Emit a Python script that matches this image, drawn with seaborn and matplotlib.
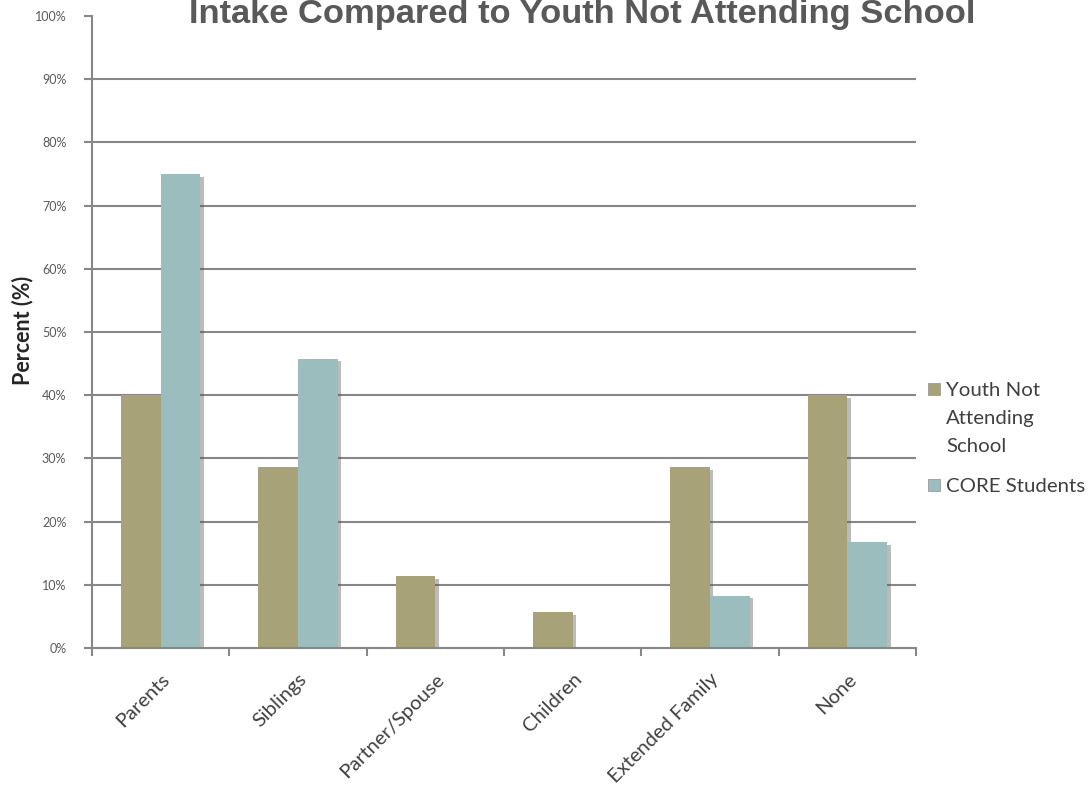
import matplotlib
matplotlib.use("Agg")
import matplotlib.pyplot as plt
import matplotlib.patheffects as pe
from matplotlib.patches import Rectangle
import seaborn as sns
import pandas as pd

categories = ["Parents", "Siblings", "Partner/Spouse", "Children", "Extended Family", "None"]
youth_not_attending = [40.0, 28.6, 11.4, 5.7, 28.6, 40.0]
core_students = [75.0, 45.8, 0.0, 0.0, 8.3, 16.7]
series_names = ["Youth Not\nAttending\nSchool", "CORE Students"]
series_colors = ["#A7A277", "#9BBDBD"]
y_ticks = [0, 10, 20, 30, 40, 50, 60, 70, 80, 90, 100]
y_tick_labels = [f"{v}%" for v in y_ticks]
title = "Intake Compared to Youth Not Attending School"
y_label = "Percent (%)"

df = pd.DataFrame({
    "Category": categories * 2,
    "Series": [series_names[0]] * len(categories) + [series_names[1]] * len(categories),
    "Percent": youth_not_attending + core_students,
})

sns.set_theme(style="white")
plt.rcParams["font.family"] = ["Lato", "DejaVu Sans"]

grey = "#878787"
text_grey = "#595959"

fig = plt.figure(figsize=(10.91, 7.90), dpi=100)
ax = fig.add_axes([92 / 1091, 1 - 648 / 790, 824 / 1091, 632 / 790])

sns.barplot(data=df, x="Category", y="Percent", hue="Series", order=categories,
            hue_order=series_names, palette=series_colors, width=0.58, ax=ax,
            legend=False, saturation=1)

for p in ax.patches:
    p.set_edgecolor("none")
    p.set_path_effects([pe.SimplePatchShadow(offset=(2.5, -2), alpha=0.4, shadow_rgbFace="#555555"),
                        pe.Normal()])

ax.set_ylim(0, 100)
ax.set_xlim(-0.5, len(categories) - 0.5)
ax.set_yticks(y_ticks)
ax.set_yticklabels(y_tick_labels, fontsize=9, color=text_grey)
ax.set_xticks(range(len(categories)))
ax.set_xticklabels(categories, rotation=45, ha="right", rotation_mode="anchor",
                   fontsize=14.5, color="#404040")
ax.tick_params(axis="x", length=0, pad=16)
ax.set_xticks([i - 0.5 for i in range(len(categories) + 1)], minor=True)
ax.tick_params(axis="x", which="minor", length=6, width=1.5, color=grey, direction="out", bottom=True)
ax.tick_params(axis="y", length=6, width=1.5, color=grey, direction="out", left=True, pad=12.5)

ax.yaxis.grid(True, color=grey, linewidth=1.5)
ax.set_axisbelow(True)
ax.get_ygridlines()[-1].set_visible(False)
ax.get_ygridlines()[0].set_visible(False)

for s in ["top", "right"]:
    ax.spines[s].set_visible(False)
for s in ["left", "bottom"]:
    ax.spines[s].set_color(grey)
    ax.spines[s].set_linewidth(1.5)

ax.set_xlabel("")
ax.set_ylabel(y_label, fontsize=15.5, fontweight="bold", color="#262626")
ax.yaxis.set_label_coords((33 - 92) / 824, (648 - 330) / 632)

fig.text(582 / 1091, 1 - 23 / 790, title, ha="center", va="baseline",
         fontsize=24.8, fontweight="bold", color=text_grey, family=["Liberation Sans", "DejaVu Sans"])

# manual legend
legend_y = [389, 485]
for name, color, yc in zip(series_names, series_colors, legend_y):
    fig.patches.append(Rectangle((928 / 1091, 1 - (yc + 6) / 790), 12 / 1091, 12 / 790,
                                 transform=fig.transFigure, facecolor=color,
                                 edgecolor="#9a9a9a", linewidth=0.6))
    fig.text(946 / 1091, 1 - (yc - 13 + 6) / 790, name, ha="left", va="top", fontsize=14.7,
             color="#404040", linespacing=1.78)

fig.savefig("out.png", dpi=100)
